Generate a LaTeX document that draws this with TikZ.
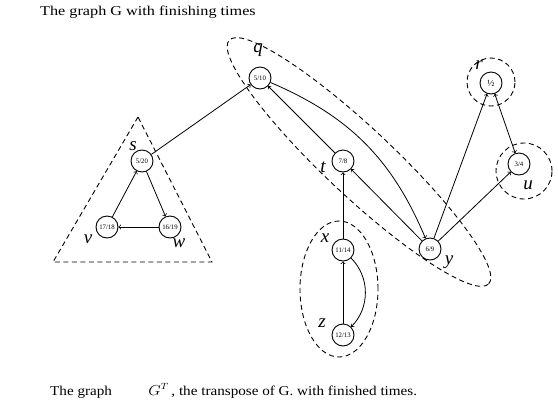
\documentclass[tikz,border=0pt]{standalone}
\usepackage{fontspec}
\setmainfont{Liberation Serif}
\usetikzlibrary{calc,positioning}

\tikzset{
  vtx/.style = {circle, draw, line width=0.9pt, minimum size=22pt, inner sep=0pt,
                font=\fontsize{6.8}{7}\selectfont},
  tag/.style = {font=\fontsize{19}{20}\selectfont\itshape, inner sep=0pt},
  link/.style = {->, >=to, line width=0.8pt},
  grp/.style = {draw, line width=0.9pt, dash pattern=on 5pt off 3.5pt},
  caption/.style = {anchor=base west, font=\fontsize{13.5}{15}\selectfont,
                    inner sep=0pt, xscale=1.2, transform shape}
}

\begin{document}
\begin{tikzpicture}[x=1pt, y=1pt]
    \useasboundingbox (0,0) rectangle (558,-400);

    % vertices
    \node[vtx] (s) at (142,-161) {5/20};
    \node[vtx] (v) at (107,-227) {17/18};
    \node[vtx] (w) at (170,-227) {16/19};
    \node[vtx] (q) at (260,-78) {5/10};
    \node[vtx] (t) at (343,-161) {7/8};
    \node[vtx] (x) at (343,-250) {11/14};
    \node[vtx] (z) at (343,-335) {12/13};
    \node[vtx] (y) at (430,-249) {6/9};
    \node[vtx] (r) at (491,-83) {\fontsize{9.5}{9}\selectfont ½};
    \node[vtx] (u) at (519,-164) {3/4};

    % letters
    \node[tag] (ls) at ($(s) + (-9,15)$) {s};
    \node[tag] (lv) at ($(v) + (-19,-12)$) {v};
    \node[tag] (lw) at ($(w) + (9,-16)$) {w};
    \node[tag] (lq) at ($(q) + (-2,28)$) {q};
    \node[tag] (lt) at ($(t) + (-20,-6)$) {t};
    \node[tag] (lx) at ($(x) + (-18,12)$) {x};
    \node[tag] (lz) at ($(z) + (-21,12)$) {z};
    \node[tag] (ly) at ($(y) + (19,-13)$) {y};
    \node[tag] (lr) at ($(r) + (-12,18)$) {r};
    \node[tag] (lu) at ($(u) + (9,-21)$) {u};

    % components
    \draw[grp] (138,-117) -- (53,-262) -- (212,-262) -- cycle;
    \draw[grp, rotate around={-43.2:(359,-162)}] (359,-162) ellipse (178pt and 34pt);
    \draw[grp] (339,-289) ellipse (39pt and 68pt);
    \draw[grp] (491,-82) circle (24pt);
    \draw[grp] (524,-171) circle (28pt);

    % edges
    \draw[link] (s) -- (q);
    \draw[link] (s) -- (w);
    \draw[link] (w) -- (v);
    \draw[link] (v) -- (s);
    \draw[link] (t) -- (q);
    \draw[link] (q) to[bend left=22] (y);
    \draw[link] (y) -- (t);
    \draw[link] (y) -- (r);
    \draw[link] (y) -- (u);
    \draw[link, <->] (u) -- (r);
    \draw[link] (x) -- (t);
    \draw[link] (z) -- (x);
    \draw[link] (x) to[bend left=45] (z);

    % captions
    \node[caption] (top) at (40,-15) {The graph G with finishing times};
    \node[caption, xscale=0.935] (bot) at (50,-395)
      {The graph\hspace{2.4em}$G^T$\,, the transpose of G. with finished times.};
\end{tikzpicture}
\end{document}
